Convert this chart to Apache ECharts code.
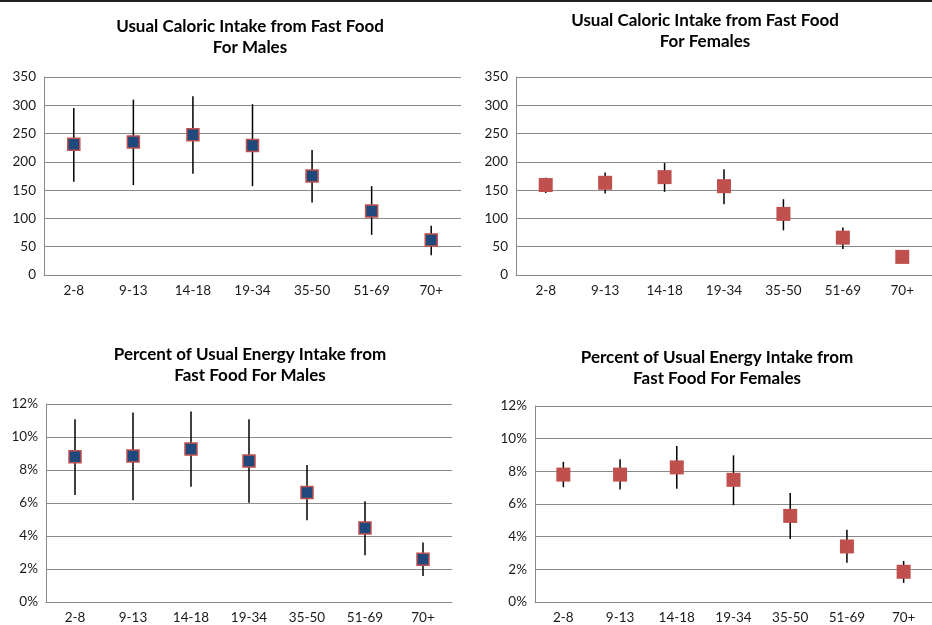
<!DOCTYPE html>
<html>
<head>
<meta charset="utf-8">
<script src="https://cdn.jsdelivr.net/npm/echarts@6/dist/echarts.min.js"></script>
<style>
html,body{margin:0;padding:0;background:#fff;}
#chart{width:932px;height:625px;}
</style>
</head>
<body>
<div id="chart"></div>
<script>
const categories = ['2-8','9-13','14-18','19-34','35-50','51-69','70+'];

const calTicks = [0,50,100,150,200,250,300,350];
const pctTicks = [0,2,4,6,8,10,12];

const maleCalMean = [231, 235, 248, 229, 175, 113, 62];
const maleCalLow  = [165, 159, 179, 157, 128, 71, 35];
const maleCalHigh = [295, 310, 316, 302, 221, 157, 87];

const femaleCalMean = [159, 163, 173, 157, 108, 66, 32];
const femaleCalLow  = [145, 144, 147, 125, 79, 46, 21];
const femaleCalHigh = [172, 181, 198, 187, 134, 84, 43];

const malePctMean = [8.8, 8.85, 9.27, 8.54, 6.64, 4.49, 2.59];
const malePctLow  = [6.48, 6.17, 6.98, 6.01, 4.96, 2.83, 1.58];
const malePctHigh = [11.07, 11.48, 11.54, 11.07, 8.3, 6.11, 3.6];

const femalePctMean = [7.8, 7.8, 8.24, 7.48, 5.27, 3.4, 1.85];
const femalePctLow  = [7.03, 6.89, 6.93, 5.93, 3.86, 2.41, 1.17];
const femalePctHigh = [8.58, 8.74, 9.55, 8.98, 6.67, 4.42, 2.51];

const titles = [
  'Usual Caloric Intake from Fast Food\nFor Males',
  'Usual Caloric Intake from Fast Food\nFor Females',
  'Percent of Usual Energy Intake from\nFast Food For Males',
  'Percent of Usual Energy Intake from\nFast Food For Females'
];

const FONT = 'Lato, "Liberation Sans", sans-serif';
const GRID_COLOR = '#8a8a8a';
const TEXT_COLOR = '#1a1a1a';

const grids = [
  {left: 44, top: 77, width: 417, height: 198},
  {left: 516, top: 77, width: 418, height: 198},
  {left: 46, top: 404, width: 406, height: 198},
  {left: 535, top: 406, width: 406, height: 199}
];

const titlePos = [
  {x: 250, y: 16},
  {x: 705, y: 10},
  {x: 250, y: 344},
  {x: 717, y: 347}
];

function xAxis(i) {
  return {
    type: 'category', gridIndex: i, data: categories, boundaryGap: true,
    axisLine: {show: true, lineStyle: {color: GRID_COLOR, width: 1}},
    axisTick: {show: false},
    axisLabel: {color: TEXT_COLOR, fontSize: 13.5, fontFamily: FONT, margin: 9}
  };
}
function yAxis(i, pct) {
  const ticks = pct ? pctTicks : calTicks;
  return {
    type: 'value', gridIndex: i, min: ticks[0], max: ticks[ticks.length-1],
    interval: ticks[1] - ticks[0],
    axisLine: {show: true, lineStyle: {color: GRID_COLOR, width: 1}},
    axisTick: {show: false},
    splitLine: {show: true, lineStyle: {color: GRID_COLOR, width: 1}},
    axisLabel: {color: TEXT_COLOR, fontSize: 13.5, fontFamily: FONT, margin: 8,
      formatter: pct ? (v => v + '%') : (v => String(v))}
  };
}

function errSeries(i, low, high) {
  return {
    type: 'custom', xAxisIndex: i, yAxisIndex: i, z: 2,
    data: categories.map((c, k) => [k, low[k], high[k]]),
    encode: {x: 0, y: [1, 2]},
    renderItem: function (params, api) {
      const x = api.value(0);
      const a = api.coord([x, api.value(1)]);
      const b = api.coord([x, api.value(2)]);
      return {type: 'line', shape: {x1: a[0], y1: a[1], x2: b[0], y2: b[1]},
        style: {stroke: '#000', lineWidth: 1.5}};
    }
  };
}
function meanSeries(i, mean, male) {
  return {
    type: 'scatter', xAxisIndex: i, yAxisIndex: i, z: 3,
    symbol: 'rect', symbolSize: male ? 12 : 14,
    data: mean,
    itemStyle: male
      ? {color: '#1F497D', borderColor: '#C0504D', borderWidth: 1.5, opacity: 1}
      : {color: '#C0504D', opacity: 1},
    emphasis: {disabled: true}
  };
}

const chart = echarts.init(document.getElementById('chart'), null, {renderer: 'canvas'});
chart.setOption({
  backgroundColor: '#fff',
  animation: false,
  title: titles.map((t, i) => ({
    text: t, left: titlePos[i].x, top: titlePos[i].y, textAlign: 'center', padding: 0,
    textStyle: {fontFamily: FONT, fontWeight: 'bold', fontSize: 17, color: '#000', lineHeight: 21}
  })),
  grid: grids,
  xAxis: [0,1,2,3].map(xAxis),
  yAxis: [yAxis(0,false), yAxis(1,false), yAxis(2,true), yAxis(3,true)],
  series: [
    errSeries(0, maleCalLow, maleCalHigh), meanSeries(0, maleCalMean, true),
    errSeries(1, femaleCalLow, femaleCalHigh), meanSeries(1, femaleCalMean, false),
    errSeries(2, malePctLow, malePctHigh), meanSeries(2, malePctMean, true),
    errSeries(3, femalePctLow, femalePctHigh), meanSeries(3, femalePctMean, false)
  ],
  graphic: [{
    type: 'line', shape: {x1: 0, y1: 1, x2: 932, y2: 1},
    style: {stroke: '#222', lineWidth: 2}
  }]
});
</script>
</body>
</html>
